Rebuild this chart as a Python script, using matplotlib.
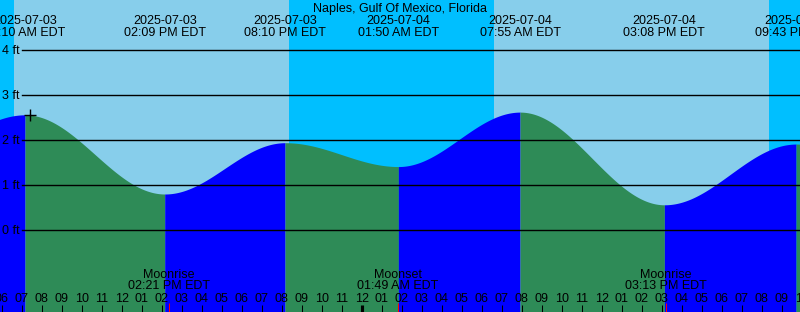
import numpy as np
import pandas as pd
import matplotlib
matplotlib.use("Agg")
import matplotlib.pyplot as plt
from matplotlib.transforms import blended_transform_factory

station = "Naples, Gulf Of Mexico, Florida"

# tide extremes (first and last are just outside the window)
tide_times = ["2025-07-03 00:50", "2025-07-03 07:10", "2025-07-03 14:09",
              "2025-07-03 20:10", "2025-07-04 01:50", "2025-07-04 07:55",
              "2025-07-04 15:08", "2025-07-04 21:43", "2025-07-05 04:00"]
tide_heights = [1.50, 2.56, 0.80, 1.94, 1.41, 2.62, 0.56, 1.91, 1.20]

sun_events = ["2025-07-03 06:37", "2025-07-03 20:22",
              "2025-07-04 06:37", "2025-07-04 20:22"]

moon_names = ["Moonrise", "Moonset", "Moonrise"]
moon_times = ["2025-07-03 14:21", "2025-07-04 01:49", "2025-07-04 15:13"]

now_time = "2025-07-03 07:25"
y_ticks = [0, 1, 2, 3, 4]

base = pd.Timestamp("2025-07-03 00:00")


def hrs(s):
    return (pd.Timestamp(s) - base) / pd.Timedelta(hours=1)


def tide_at(t):
    tt = [hrs(s) for s in tide_times]
    i = np.searchsorted(tt, t) - 1
    s = (t - tt[i]) / (tt[i + 1] - tt[i])
    h0, h1 = tide_heights[i], tide_heights[i + 1]
    return h0 + (h1 - h0) * (1 - np.cos(np.pi * s)) / 2


W, H = 800, 312
x0, x1 = 5.915, 45.915
y0, y1 = -1.822, 5.111

plt.rcParams['font.family'] = ['Liberation Sans', 'DejaVu Sans']
fs = 9

fig = plt.figure(figsize=(W / 100, H / 100), dpi=100)
ax = fig.add_axes([0, 0, 1, 1])
ax.set_xlim(x0, x1)
ax.set_ylim(y0, y1)
ax.axis("off")
bt = blended_transform_factory(ax.transData, ax.transAxes)

# day / night background
edges = [x0] + [hrs(s) for s in sun_events] + [x1]
for k in range(len(edges) - 1):
    c = "#00bfff" if k % 2 == 0 else "#87ceeb"
    ax.axvspan(edges[k], edges[k + 1], color=c, lw=0, zorder=0)

# tide curve, coloured by rising / falling
tt = [hrs(s) for s in tide_times]
for i in range(len(tt) - 1):
    t = np.linspace(tt[i], tt[i + 1], 120)
    s = (t - tt[i]) / (tt[i + 1] - tt[i])
    h = tide_heights[i] + (tide_heights[i + 1] - tide_heights[i]) * (1 - np.cos(np.pi * s)) / 2
    c = "#0000ff" if tide_heights[i + 1] > tide_heights[i] else "#2e8b57"
    ax.fill_between(t, y0, h, color=c, lw=0, zorder=1)

# height grid lines + labels
for v in y_ticks:
    ax.axhline(v, xmin=22 / W, xmax=1, color="black", lw=1.0, zorder=2)
    ax.text(x0 + 2 / 20, v - 4 / 45, "%d ft" % v, fontsize=fs,
            ha="left", va="baseline", zorder=3)

# current time marker
nt = hrs(now_time)
ax.plot(nt, tide_at(nt), marker="+", color="black", ms=9, mew=1, zorder=4)

# title and tide labels
ax.text(0.5, 1 - 11.7 / H, station, transform=ax.transAxes, fontsize=fs,
        ha="center", va="baseline")
for s in tide_times:
    t = hrs(s)
    if x0 - 3 < t < x1 + 3:
        ts = pd.Timestamp(s)
        ax.text(t, 1 - 24 / H, ts.strftime("%Y-%m-%d"), transform=bt,
                fontsize=fs, ha="center", va="baseline")
        ax.text(t, 1 - 36 / H, ts.strftime("%I:%M %p EDT"), transform=bt,
                fontsize=fs, ha="center", va="baseline")

# hour ticks and labels
for h in range(6, 47):
    lw = 3 if h % 24 == 0 else 1
    ax.vlines(h, 0, 7 / H, transform=bt, color="black", lw=lw * 0.75, zorder=3)
    lab = "%02d" % ((h % 12) or 12)
    ax.text(h, 1 - 301.7 / H, lab, transform=bt, fontsize=fs,
            ha="center", va="baseline")

# moon events
for name, s in zip(moon_names, moon_times):
    t = hrs(s)
    ts = pd.Timestamp(s)
    ax.vlines(t, 0, 9 / H, transform=bt, color="red", lw=0.75, zorder=4)
    ax.text(t, 1 - 278.3 / H, name, transform=bt, fontsize=fs,
            ha="center", va="baseline")
    ax.text(t, 1 - 289.3 / H, ts.strftime("%I:%M %p EDT"), transform=bt,
            fontsize=fs, ha="center", va="baseline")

fig.savefig("out.png", dpi=100)
